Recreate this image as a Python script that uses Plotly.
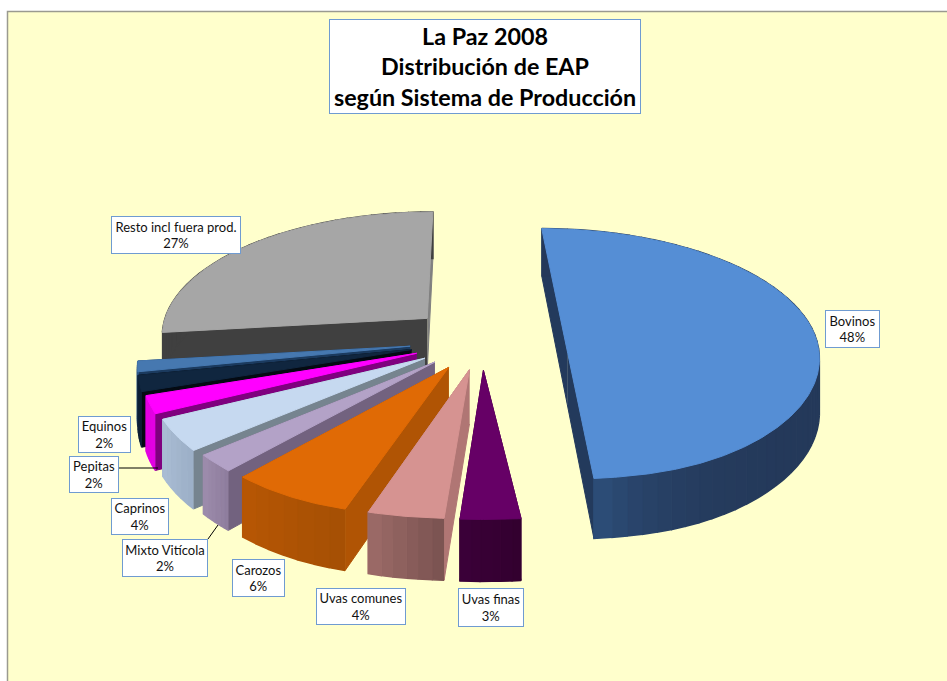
import math
import numpy as np
import plotly.graph_objects as go

categories = ["Bovinos", "Uvas finas", "Uvas comunes", "Carozos", "Mixto Vitícola",
              "Caprinos", "Pepitas", "Equinos", "", "Resto incl fuera prod."]
shares = [48.08, 3.11, 3.97, 6.5, 2.19, 3.92, 2.17, 1.94, 1.3, 26.8]
percent_labels = [48, 3, 4, 6, 2, 4, 2, 2, None, 27]

# styling
top_colors = ["#558ED5", "#660066", "#D69391", "#E06A05", "#B3A2C7", "#C6D9F0", "#FF00FF", "#10263F", "#4678B0", "#A6A6A6"]
radial_colors = ["#233A5C", "#3A0038", "#B07674", "#B05404", "#72627F", "#76848F", "#7F007F", "#040A12", "#1B3A5E", "#404040"]
radial2_colors = ["#233A5C", "#3A0038", "#B07674", "#B05404", "#72627F", "#76848F", "#7F007F", "#040A12", "#1B3A5E", "#808080"]
wall_a = ["#2C4C76", "#3A0038", "#9A6966", "#B65604", "#9C8BAB", "#A9BCD3", "#E300E3", "#0D2036", "#2E5787", "#404040"]
wall_b = ["#24395A", "#33002F", "#7C5452", "#A65004", "#8F7E9E", "#9DB0C8", "#E300E3", "#0D2036", "#2E5787", "#404040"]
wall_gamma = [14, 1, 1, 1, 1, 1, 1, 1, 1, 1]
explode = [0.25, 0.23, 0.23, 0.24, 0.24, 0.25, 0.26, 0.27, 0.27, 0.28]

CX, CY = 482, 341
A, B, K = 268, 124, 0.118
THICK = 53
START = 0.0
BULGE = 0.03


def project(x, y):
    d = 1 + K * y
    return CX + A * x / d, CY - B * y / d, THICK / d


def rim_point(a):
    s, c = math.sin(a), math.cos(a)
    if c < 0:
        c = c * (1 + BULGE * (1 - c ** 12))
    return s, c


def hex2rgb(h):
    return tuple(int(h[i:i + 2], 16) for i in (1, 3, 5))


def blend(a, b, t):
    ra, rb = hex2rgb(a), hex2rgb(b)
    return "rgb(%d,%d,%d)" % tuple(round(p + (q - p) * t) for p, q in zip(ra, rb))


fig = go.Figure()


def poly(xs, ys, color, width=1):
    fig.add_trace(go.Scatter(x=list(xs), y=list(ys), mode="lines", fill="toself", fillcolor=color,
                             line=dict(color=color, width=width), hoverinfo="skip", showlegend=False))


total = sum(shares)
spans = []
ang = START
for v in shares:
    sweep = 360 * v / total
    spans.append((ang, ang + sweep))
    ang += sweep

for i in range(len(shares) - 1, -1, -1):
    t0, t1 = spans[i]
    mid = math.radians((t0 + t1) / 2)
    px, py = explode[i] * math.sin(mid), explode[i] * math.cos(mid)
    ax, ay, at = project(px, py)
    th = np.radians(np.linspace(t0, t1, max(12, int((t1 - t0) * 2))))
    pts = []
    for a in th:
        s, c = rim_point(a)
        pts.append(project(px + s, py + c))
    rx, ry, rt = zip(*pts)
    if t1 - t0 > 170:  # a near half disc reads as a straight cut edge
        ax, ay, at = (rx[0] + rx[-1]) / 2, (ry[0] + ry[-1]) / 2, (rt[0] + rt[-1]) / 2
    # radial walls
    poly([ax, rx[-1], rx[-1], ax], [ay, ry[-1], ry[-1] + rt[-1], ay + at], radial2_colors[i])
    poly([ax, rx[0], rx[0], ax], [ay, ry[0], ry[0] + rt[0], ay + at], radial_colors[i])
    # outer wall, shaded in bands
    n = len(rx) - 1
    bands = max(6, int((t1 - t0) / 3))
    for b in range(bands):
        j0 = b * n // bands
        j1 = (b + 1) * n // bands
        xs = list(rx[j0:j1 + 1])
        ys = list(ry[j0:j1 + 1])
        lows = [y + t for y, t in zip(ry[j0:j1 + 1], rt[j0:j1 + 1])]
        frac = (b / max(bands - 1, 1)) ** wall_gamma[i]
        poly(xs + xs[::-1], ys + lows[::-1], blend(wall_b[i], wall_a[i], frac), width=1.5)
    # top face
    poly([ax] + list(rx) + [ax], [ay] + list(ry) + [ay], top_colors[i])

# leader lines
fig.add_trace(go.Scatter(x=[119, 158], y=[468, 468], mode="lines", line=dict(color="black", width=1),
                         hoverinfo="skip", showlegend=False))
fig.add_trace(go.Scatter(x=[208, 218], y=[539, 525], mode="lines", line=dict(color="black", width=1),
                         hoverinfo="skip", showlegend=False))

boxes = {
    "Bovinos": (825, 310, 880, 348),
    "Uvas finas": (458, 588, 524, 627),
    "Uvas comunes": (316, 588, 406, 625),
    "Carozos": (232, 559, 285, 597),
    "Mixto Vitícola": (122, 539, 208, 577),
    "Caprinos": (111, 498, 169, 535),
    "Pepitas": (69, 456, 119, 493),
    "Equinos": (78, 416, 131, 453),
    "Resto incl fuera prod.": (111, 216, 241, 254),
}
annotations = []
for name, pct in zip(categories, percent_labels):
    if pct is None:
        continue
    x0, y0, x1, y1 = boxes[name]
    annotations.append(dict(x=(x0 + x1) / 2, y=(y0 + y1) / 2, xref="x", yref="y", showarrow=False,
                            text=f"{name}<br>{pct}%", align="center",
                            width=x1 - x0 - 2, height=y1 - y0 - 2, bgcolor="white",
                            bordercolor="#6F9BD1", borderwidth=1, borderpad=0,
                            font=dict(family="Lato", size=13, color="#111111")))
annotations.append(dict(x=485, y=66.5, xref="x", yref="y", showarrow=False,
                        text="<b>La Paz 2008<br>Distribución de EAP<br>según Sistema de Producción</b>",
                        align="center", width=310, height=93, bgcolor="white",
                        bordercolor="#6F9BD1", borderwidth=1, borderpad=0,
                        font=dict(family="Lato", size=23.3, color="black")))

fig.update_layout(
    width=947, height=681, margin=dict(l=0, r=0, t=0, b=0, pad=0), autosize=False,
    paper_bgcolor="white", plot_bgcolor="white", showlegend=False,
    xaxis=dict(range=[0, 947], visible=False, fixedrange=True),
    yaxis=dict(range=[681, 0], visible=False, fixedrange=True),
    shapes=[dict(type="rect", xref="x", yref="y", x0=7.5, y0=11.5, x1=960, y1=700, layer="below",
                 fillcolor="#FFFFCC", line=dict(color="#9A9A90", width=1.5))],
    annotations=annotations,
)
fig.write_html("out.html", config=dict(displayModeBar=False),
               post_script="document.body.style.margin='0';document.documentElement.style.overflow='hidden';")
